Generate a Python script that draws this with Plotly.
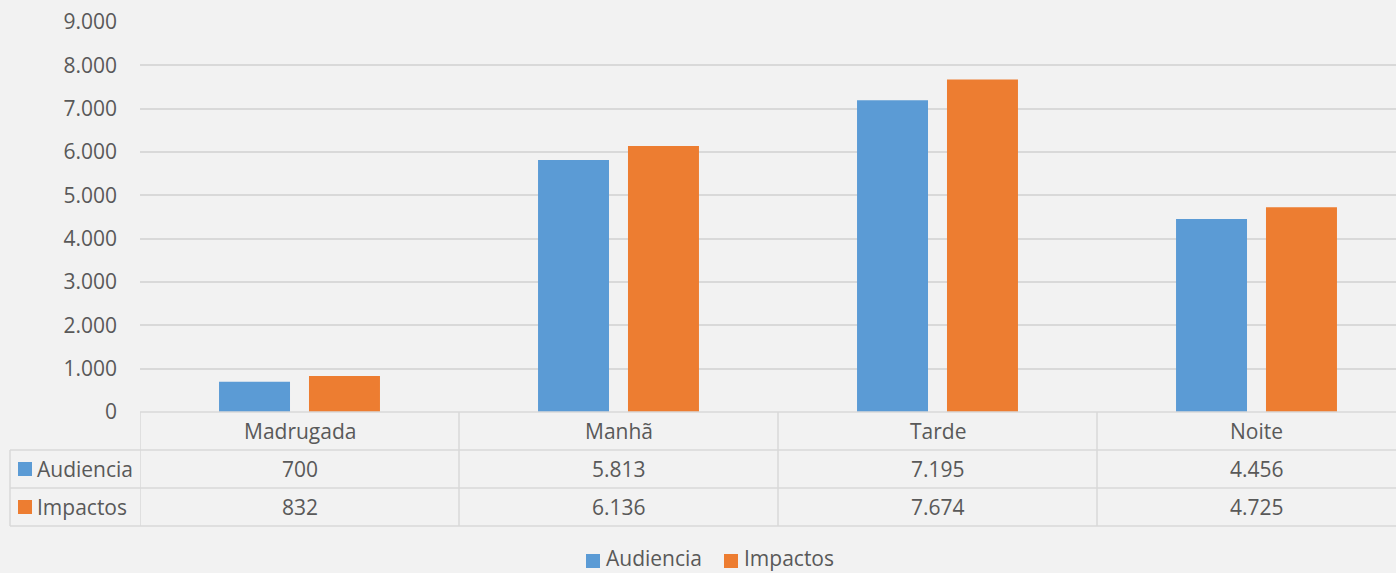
import plotly.graph_objects as go

categories = ["Madrugada", "Manhã", "Tarde", "Noite"]
audiencia = [700, 5813, 7195, 4456]
impactos = [832, 6136, 7674, 4725]
series_names = ["Audiencia", "Impactos"]
series_colors = ["#5b9bd5", "#ed7d31"]
y_ticks = [0, 1000, 2000, 3000, 4000, 5000, 6000, 7000, 8000, 9000]

W, H = 1396, 573
FONT = "Open Sans"
FS = 21
TXT = "#595959"
GRID = "#d9d9d9"
BG = "#f2f2f2"


def fmt(v):
    return f"{v:,}".replace(",", ".")


plot_left = 140
col_w = 319
y0_px = 412
y9_px = 22


def py(p):
    return 1 - p / H


def px(p):
    return p / W


fig = go.Figure()
for name, vals, col in zip(series_names, [audiencia, impactos], series_colors):
    fig.add_trace(go.Bar(x=list(range(len(categories))), y=vals, name=name,
                         marker=dict(color=col, line=dict(width=0)), showlegend=False))

x_max = -0.5 + (W - plot_left) / col_w

shapes = []
line = dict(color=GRID, width=1.5)
rows_px = [412, 450, 488, 526]
for i, r in enumerate(rows_px):
    x0 = plot_left if i == 0 else 10
    shapes.append(dict(type="line", xref="paper", yref="paper",
                       x0=px(x0), x1=1, y0=py(r), y1=py(r), line=line, layer="above"))
shapes.append(dict(type="line", xref="paper", yref="paper", x0=px(10), x1=px(10),
                   y0=py(450), y1=py(526), line=line))
for k in range(len(categories)):
    xb = -0.5 + k
    shapes.append(dict(type="line", xref="x", yref="paper", x0=xb, x1=xb,
                       y0=py(412), y1=py(526), line=line))

tfont = dict(family=FONT, size=FS, color=TXT)
annotations = []
for k, c in enumerate(categories):
    annotations.append(dict(x=k, y=py(431), xref="x", yref="paper", text=c,
                            xanchor="center", yanchor="middle",
                            showarrow=False, font=tfont))
for vals, rc in zip([audiencia, impactos], [469, 507]):
    for k, v in enumerate(vals):
        annotations.append(dict(x=k, y=py(rc), xref="x", yref="paper", text=fmt(v),
                                xanchor="center", yanchor="middle",
                                showarrow=False, font=tfont))
for name, col, rc in zip(series_names, series_colors, [469, 507]):
    shapes.append(dict(type="rect", xref="paper", yref="paper",
                       x0=px(18), x1=px(32), y0=py(rc + 7), y1=py(rc - 7),
                       fillcolor=col, line=dict(width=0)))
    annotations.append(dict(x=px(35), y=py(rc), xref="paper", yref="paper", text=name,
                            xanchor="left", yanchor="middle", showarrow=False, font=tfont))

# bottom legend (manual)
legend_pos = [(586, 604), (724, 742)]
for name, col, (sx, tx) in zip(series_names, series_colors, legend_pos):
    shapes.append(dict(type="rect", xref="paper", yref="paper",
                       x0=px(sx), x1=px(sx + 14), y0=py(568), y1=py(554),
                       fillcolor=col, line=dict(width=0)))
    annotations.append(dict(x=px(tx), y=py(558), xref="paper", yref="paper", text=name,
                            xanchor="left", yanchor="middle", showarrow=False, font=tfont))

fig.update_layout(
    width=W, height=H, autosize=False,
    margin=dict(l=0, r=0, t=0, b=0, pad=0),
    paper_bgcolor=BG, plot_bgcolor=BG,
    separators=",.",
    barmode="group", bargap=0.436, bargroupgap=0.211,
    font=tfont,
    showlegend=False,
    xaxis=dict(domain=[px(plot_left), 1], range=[-0.5, x_max], showticklabels=False,
               showgrid=False, zeroline=False, showline=False, fixedrange=True,
               automargin=False),
    yaxis=dict(domain=[py(y0_px), py(y9_px)], range=[0, 9000], tickvals=y_ticks,
               tickformat=",d", showgrid=True, gridcolor=GRID, gridwidth=1.5,
               zeroline=False, showline=False, ticks="", ticklabelstandoff=22,
               automargin=False, tickfont=tfont),
    shapes=shapes, annotations=annotations,
)

post = ("document.body.style.margin='0';document.body.style.padding='0';"
        "document.body.style.background='#f2f2f2';"
        "document.documentElement.style.overflow='hidden';"
        "document.body.style.overflow='hidden';")

fig.write_html("out.html", config={"responsive": False, "displayModeBar": False},
               post_script=post)
